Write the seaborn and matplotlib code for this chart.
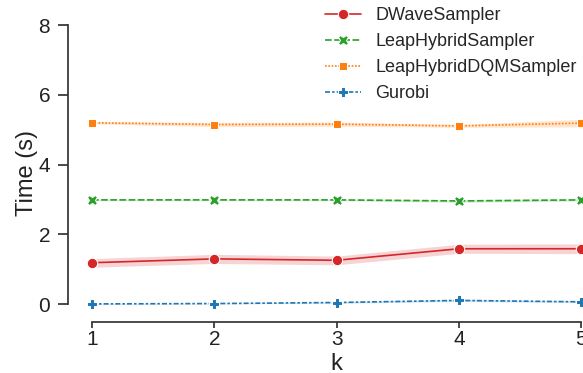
import numpy as np
import pandas as pd
import matplotlib
matplotlib.use("Agg")
import matplotlib.pyplot as plt
import seaborn as sns

# ---- data ----
k_values = [1, 2, 3, 4, 5]
solvers = ["DWaveSampler", "LeapHybridSampler", "LeapHybridDQMSampler", "Gurobi"]
dwave_mean = [1.19, 1.30, 1.26, 1.59, 1.59]
dwave_lo = [1.06, 1.17, 1.13, 1.46, 1.45]
dwave_hi = [1.31, 1.43, 1.38, 1.72, 1.73]
leap_mean = [2.99, 2.99, 2.99, 2.96, 2.99]
leap_lo = [2.97, 2.97, 2.97, 2.92, 2.96]
leap_hi = [3.01, 3.01, 3.01, 3.00, 3.02]
dqm_mean = [5.20, 5.15, 5.16, 5.11, 5.19]
dqm_lo = [5.17, 5.09, 5.10, 5.07, 5.08]
dqm_hi = [5.23, 5.21, 5.22, 5.15, 5.30]
gurobi_mean = [0.01, 0.02, 0.05, 0.11, 0.07]
gurobi_lo = [0.00, 0.01, 0.03, 0.08, 0.05]
gurobi_hi = [0.02, 0.03, 0.07, 0.14, 0.09]
colors = ["#d62728", "#2ca02c", "#ff7f0e", "#1f77b4"]

means = [dwave_mean, leap_mean, dqm_mean, gurobi_mean]
los = [dwave_lo, leap_lo, dqm_lo, gurobi_lo]
his = [dwave_hi, leap_hi, dqm_hi, gurobi_hi]

rows = []
for s, m in zip(solvers, means):
    for k, v in zip(k_values, m):
        rows.append({"k": k, "Time (s)": v, "Solver": s})
df = pd.DataFrame(rows)

sns.set_theme(style="ticks")
plt.rcParams["font.family"] = ["Liberation Sans", "DejaVu Sans"]

fig = plt.figure(figsize=(5.83, 3.73), dpi=100)
ax = fig.add_axes([0.1158, 0.1375, 0.9231, 0.7954])

palette = dict(zip(solvers, colors))
sns.lineplot(data=df, x="k", y="Time (s)", hue="Solver", style="Solver",
             hue_order=solvers, style_order=solvers, palette=palette,
             markers=True, dashes=True, errorbar=None, ax=ax,
             linewidth=1.2, markersize=7.5)
for s, lo, hi, c in zip(solvers, los, his, colors):
    ax.fill_between(k_values, lo, hi, color=c, alpha=0.2, linewidth=0)

ax.set_xlim(0.8, 5.2)
ax.set_ylim(-0.5, 8)
ax.set_xticks(k_values)
ax.set_yticks([0, 2, 4, 6, 8])
ax.tick_params(labelsize=15, colors="#333333", labelcolor="#222222")
ax.tick_params(axis="y", length=7.5, pad=5)
ax.tick_params(axis="x", length=4, pad=2)
ax.set_xlabel("k", fontsize=17, color="#222222", labelpad=3)
ax.set_ylabel("Time (s)", fontsize=17, color="#222222", labelpad=0)
sns.despine(ax=ax, trim=True)
for sp in ax.spines.values():
    sp.set_color("#333333")

handles, labels = ax.get_legend_handles_labels()
ax.legend(handles, labels, loc="upper left", bbox_to_anchor=(0.545, 1.0),
          bbox_transform=fig.transFigure, frameon=False, fontsize=13,
          borderaxespad=0, labelspacing=0.5)

fig.savefig("out.png", dpi=100)
